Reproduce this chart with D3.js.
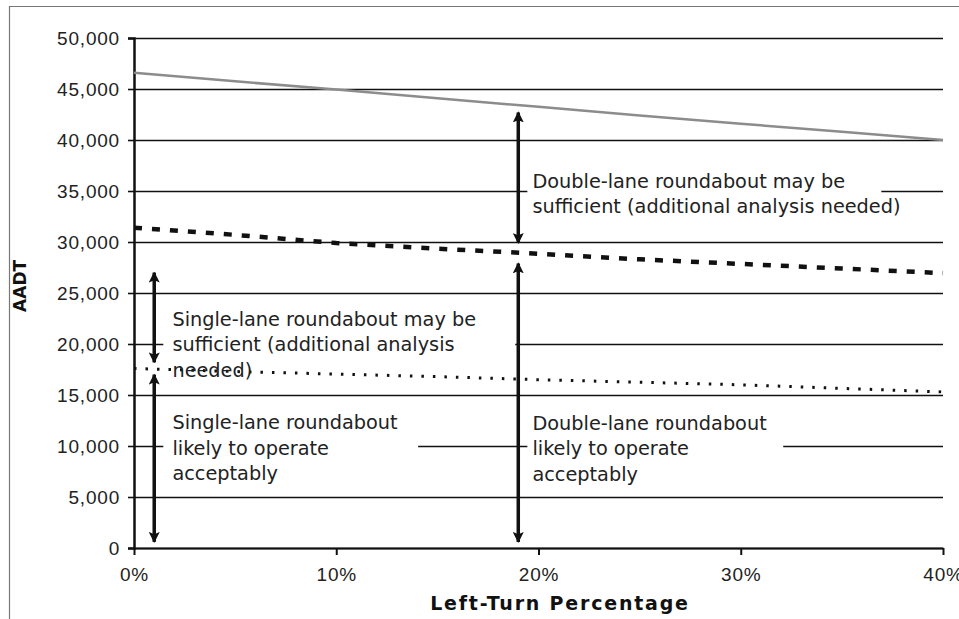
<!DOCTYPE html>
<html lang="en">
<head>
  <meta charset="UTF-8">
  <title>AADT vs Left-Turn Percentage</title>
  <script src="https://d3js.org/d3.v7.min.js"></script>
  <style>
    body {
      margin: 0;
      background: #fff;
      font-family: "DejaVu Sans", Verdana, sans-serif;
    }
    svg { display: block; }
    .tick text { font-size: 19px; letter-spacing: 0.8px; fill: #222; }
    .ann { font-size: 19.3px; fill: #222; }
    .axis-title { font-size: 19px; font-weight: bold; fill: #111; }
  </style>
</head>
<body>
  <svg width="959" height="619"></svg>

  <script>
    // values
    const turnPct = [0, 5, 10, 15, 20, 25, 30, 35, 40];
    const upperLine = [46600, 45750, 44950, 44100, 43250, 42400, 41600, 40800, 40000];
    const middleLine = [31400, 30700, 29900, 29350, 28850, 28300, 27850, 27400, 26950];
    const lowerLine = [17600, 17300, 17050, 16800, 16500, 16250, 16000, 15650, 15300];

    const yTicks = [0, 5000, 10000, 15000, 20000, 25000, 30000, 35000, 40000, 45000, 50000];
    const xTicks = [0, 10, 20, 30, 40];

    // double headed arrows: [x %, from, to]
    const arrows = [
      [1, 18200, 27000],
      [1, 17000, 600],
      [19, 29900, 42700],
      [19, 27900, 600]
    ];

    const annotations = [
      ["Single-lane roundabout may be", "sufficient (additional analysis", "needed)"],
      ["Single-lane roundabout", "likely to operate", "acceptably"],
      ["Double-lane roundabout may be", "sufficient (additional analysis needed)"],
      ["Double-lane roundabout", "likely to operate", "acceptably"]
    ];

    // where each annotation sits (data units) and its white box
    const annLayout = [
      { x: 1.9, y: 21800, box: [1.45, 18.85, 16000, 24300] },
      { x: 1.9, y: 11650, box: [1.45, 14.05, 5800, 14000] },
      { x: 19.7, y: 35300, box: [19.45, 36.95, 33000, 38000] },
      { x: 19.7, y: 11600, box: [19.45, 32.1, 5800, 14000] }
    ];

    const margin = { top: 38, right: 16, bottom: 71, left: 134 },
          width = 959 - margin.left - margin.right,
          height = 619 - margin.top - margin.bottom;

    const svg = d3.select("svg");

    // outer frame (top and left edges only)
    svg.append("path")
      .attr("d", "M9.5,619V6.5H959")
      .attr("fill", "none")
      .attr("stroke", "#777")
      .attr("stroke-width", 1.2);

    const g = svg.append("g")
      .attr("transform", `translate(${margin.left},${margin.top})`);

    const x = d3.scaleLinear().domain([0, 40]).range([0, width]);
    const y = d3.scaleLinear().domain([0, 50000]).range([height, 0]);

    // gridlines
    g.append("g")
      .call(d3.axisLeft(y).tickValues(yTicks).tickSize(-width).tickFormat(""))
      .call(a => a.select(".domain").remove())
      .selectAll("line")
      .attr("stroke", "#111")
      .attr("stroke-width", 1.6);

    // white text boxes hide the gridlines behind the labels
    g.selectAll("rect.box")
      .data(annLayout)
      .enter()
      .append("rect")
      .attr("class", "box")
      .attr("x", d => x(d.box[0]))
      .attr("width", d => x(d.box[1]) - x(d.box[0]))
      .attr("y", d => y(d.box[3]))
      .attr("height", d => y(d.box[2]) - y(d.box[3]))
      .attr("fill", "#fff");

    // y axis
    g.append("g")
      .call(d3.axisLeft(y).tickValues(yTicks).tickSize(6).tickPadding(8)
        .tickFormat(d3.format(",")))
      .call(a => a.select(".domain").attr("stroke", "#111").attr("stroke-width", 2.5))
      .call(a => a.selectAll(".tick line").attr("stroke", "#111").attr("stroke-width", 1.6));

    // x axis
    g.append("g")
      .attr("transform", `translate(0,${height})`)
      .call(d3.axisBottom(x).tickValues(xTicks).tickSize(7).tickPadding(13)
        .tickSizeOuter(0)
        .tickFormat(d => d + "%"))
      .call(a => a.select(".domain").attr("stroke", "#111").attr("stroke-width", 2))
      .call(a => a.selectAll(".tick line").attr("stroke", "#111").attr("stroke-width", 2));

    // series
    const line = d3.line()
      .x((d, i) => x(turnPct[i]))
      .y(d => y(d));

    g.append("path")
      .datum(upperLine)
      .attr("d", line)
      .attr("fill", "none")
      .attr("stroke", "#8c8c8c")
      .attr("stroke-width", 2.5);

    g.append("path")
      .datum(middleLine)
      .attr("d", line)
      .attr("fill", "none")
      .attr("stroke", "#111")
      .attr("stroke-width", 4.5)
      .attr("stroke-dasharray", "8,10");

    g.append("path")
      .datum(lowerLine)
      .attr("d", line)
      .attr("fill", "none")
      .attr("stroke", "#111")
      .attr("stroke-width", 3)
      .attr("stroke-dasharray", "2.5,9");

    // arrow heads
    const defs = svg.append("defs");
    defs.append("marker")
      .attr("id", "head")
      .attr("viewBox", "0 0 10 10")
      .attr("refX", 9)
      .attr("refY", 5)
      .attr("markerUnits", "userSpaceOnUse")
      .attr("markerWidth", 11)
      .attr("markerHeight", 11)
      .attr("orient", "auto-start-reverse")
      .append("path")
      .attr("d", "M0,0L10,5L0,10L2,5Z")
      .attr("fill", "#111");

    g.selectAll("line.arrow")
      .data(arrows)
      .enter()
      .append("line")
      .attr("class", "arrow")
      .attr("x1", d => x(d[0]))
      .attr("x2", d => x(d[0]))
      .attr("y1", d => y(d[1]))
      .attr("y2", d => y(d[2]))
      .attr("stroke", "#111")
      .attr("stroke-width", 3.5)
      .attr("marker-start", "url(#head)")
      .attr("marker-end", "url(#head)");

    // annotation text
    annotations.forEach((lines, i) => {
      const lay = annLayout[i];
      const t = g.append("text")
        .attr("class", "ann")
        .attr("x", x(lay.x))
        .attr("y", y(lay.y));
      lines.forEach((s, j) => {
        t.append("tspan")
          .attr("x", x(lay.x))
          .attr("dy", j === 0 ? 0 : 25.5)
          .text(s);
      });
    });

    // axis titles
    g.append("text")
      .attr("class", "axis-title")
      .attr("x", 426)
      .attr("y", height + 62)
      .attr("text-anchor", "middle")
      .style("letter-spacing", "1.8px")
      .text("Left-Turn Percentage");

    g.append("text")
      .attr("class", "axis-title")
      .attr("transform", `translate(${-108},${y(25700)}) rotate(-90)`)
      .attr("text-anchor", "middle")
      .style("font-size", "17px")
      .text("AADT");
  </script>
</body>
</html>
